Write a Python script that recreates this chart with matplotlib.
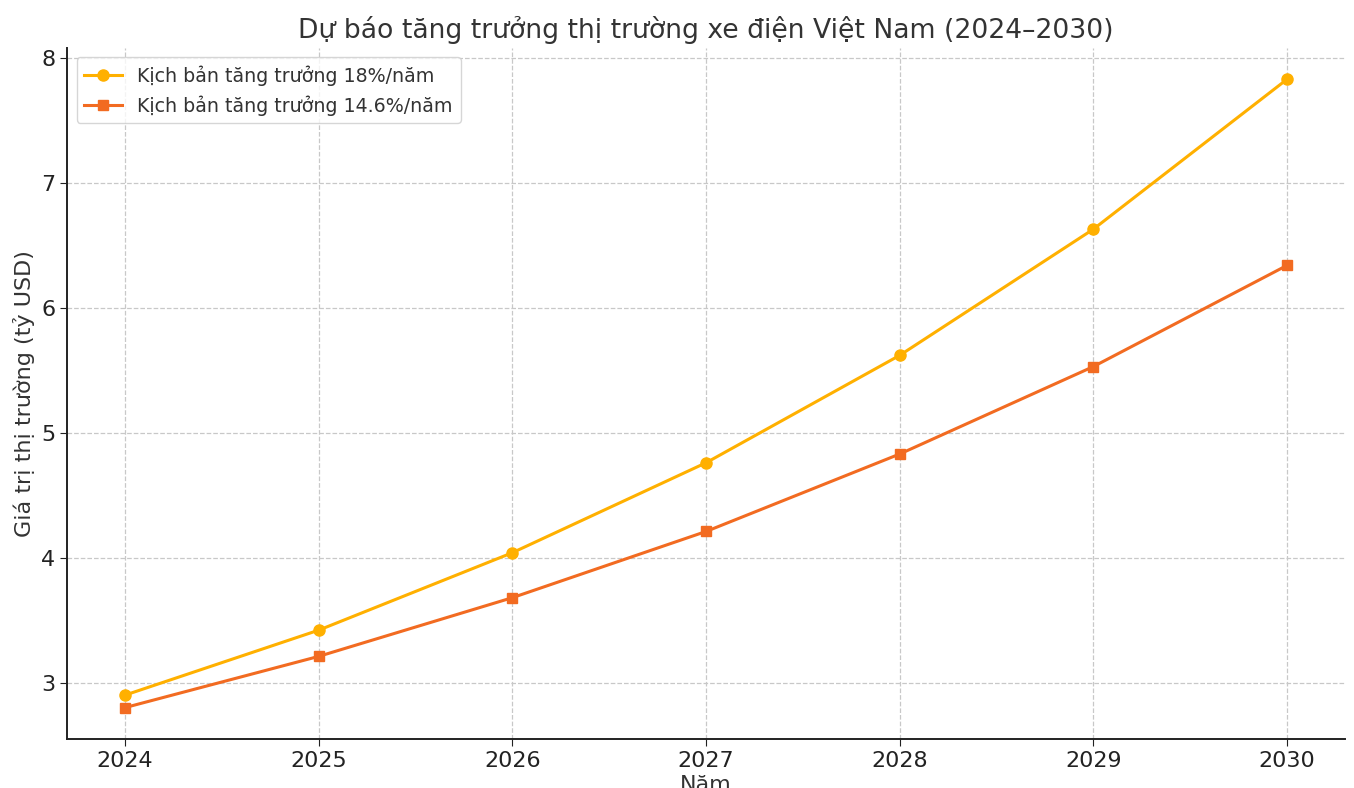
import matplotlib
matplotlib.use("Agg")
import matplotlib.pyplot as plt

years = [2024, 2025, 2026, 2027, 2028, 2029, 2030]
growth_18 = [2.90, 3.42, 4.04, 4.76, 5.62, 6.63, 7.83]
growth_146 = [2.80, 3.21, 3.68, 4.21, 4.83, 5.53, 6.34]
labels = ["Kịch bản tăng trưởng 18%/năm", "Kịch bản tăng trưởng 14.6%/năm"]

plt.rcParams["font.family"] = "DejaVu Sans"
plt.rcParams["text.color"] = "#333333"

fig = plt.figure(figsize=(13.54, 7.88), dpi=100)
ax = fig.add_axes([0.0495, 0.0622, 0.9439, 0.877])

ax.plot(years, growth_18, marker="o", color="#FFB000", lw=2.2, ms=8, label=labels[0])
ax.plot(years, growth_146, marker="s", color="#F26B21", lw=2.2, ms=7.5, label=labels[1])

ax.set_title("Dự báo tăng trưởng thị trường xe điện Việt Nam (2024–2030)", fontsize=19.2, color="#333333", pad=7)
ax.set_xlabel("Năm", fontsize=16, color="#333333", labelpad=3)
ax.set_ylabel("Giá trị thị trường (tỷ USD)", fontsize=16, color="#333333")
ax.set_xticks(years)
ax.tick_params(labelsize=16, colors="#222222", length=5)
ax.grid(True, linestyle="--", color="#c8c8c8", linewidth=0.9)
ax.set_axisbelow(True)
for s in ["top", "right"]:
    ax.spines[s].set_visible(False)
for s in ["left", "bottom"]:
    ax.spines[s].set_linewidth(1.4)
    ax.spines[s].set_color("#222222")

leg = ax.legend(loc="upper left", fontsize=13.7, frameon=True, borderaxespad=0.5)
for t in leg.get_texts():
    t.set_color("#333333")

fig.savefig("out.png", dpi=100)
